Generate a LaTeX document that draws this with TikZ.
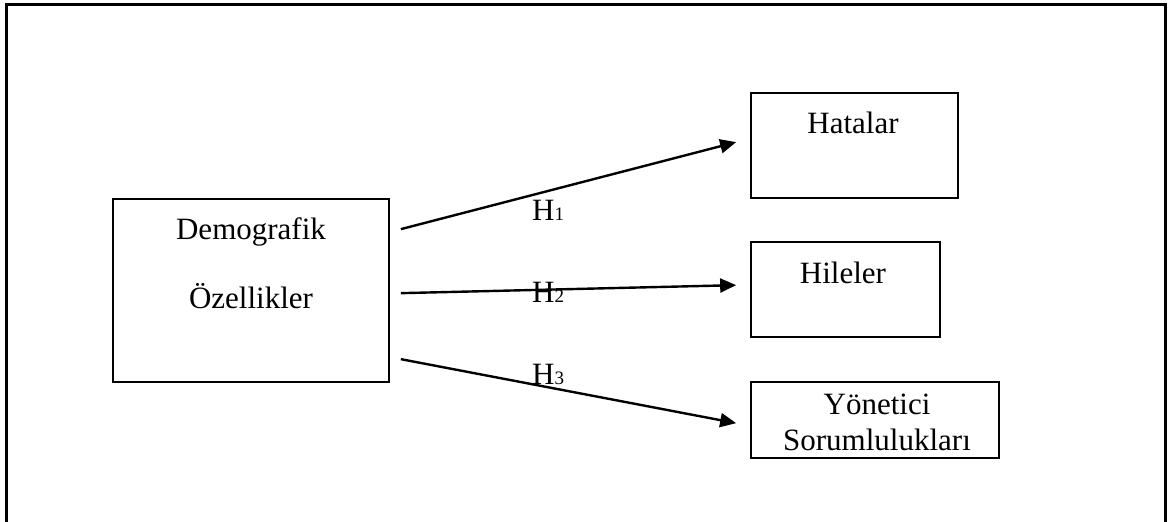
\documentclass[tikz,border=0pt]{standalone}
\usepackage{fontspec}
\setmainfont{Liberation Serif}
\usetikzlibrary{arrows.meta}
\begin{document}
\begin{tikzpicture}[x=1pt,y=-1pt,
  box/.style={draw,line width=1.7pt,minimum width=#1,inner sep=0pt},
  txt/.style={anchor=base,inner sep=0pt,font=\fontsize{31}{36}\selectfont},
  hlab/.style={anchor=base west,inner sep=0pt,font=\fontsize{31}{36}\selectfont},
  arr/.style={line width=2.4pt,-{Triangle[length=16pt,width=14pt]}}]
\useasboundingbox (0,0) rectangle (1168,522);
\draw[line width=3pt] (6,530) -- (6,4) -- (1165,4) -- (1165,530);
% boxes
\node[box=276pt,minimum height=183pt] (demo) at (251,290.5) {};
\node[box=207pt,minimum height=105pt] (hat) at (854.5,145.5) {};
\node[box=189pt,minimum height=95pt] (hil) at (845.5,289.5) {};
\node[box=248pt,minimum height=76pt] (yon) at (875,420) {};
% texts
\node[txt] (t1) at (251,239) {Demografik};
\node[txt] (t2) at (251,308) {Özellikler};
\node[txt] (t3) at (853,133) {Hatalar};
\node[txt] (t4) at (843,283) {Hileler};
\node[txt] (t5) at (877,414) {Yönetici};
\node[txt] (t6) at (877,450) {Sorumlulukları};
% arrows
\coordinate (s1) at ([xshift=11pt,yshift=-31pt]demo.north east);
\coordinate (s2) at ([xshift=11pt,yshift=-95pt]demo.north east);
\coordinate (s3) at ([xshift=11pt,yshift=-161pt]demo.north east);
\coordinate (e1) at ([xshift=-14pt,yshift=-50pt]hat.north west);
\coordinate (e2) at ([xshift=-14pt,yshift=-44pt]hil.north west);
\coordinate (e3) at ([xshift=-14pt,yshift=-42pt]yon.north west);
\draw[arr] (s1) -- (e1);
\draw[arr] (s2) -- (e2);
\draw[arr] (s3) -- (e3);
% labels
\node[hlab] (h1) at (532,220) {H\raisebox{0pt}{\fontsize{19}{19}\selectfont 1}};
\node[hlab] (h2) at (532,302) {H\raisebox{0pt}{\fontsize{19}{19}\selectfont 2}};
\node[hlab] (h3) at (532,384) {H\raisebox{0pt}{\fontsize{19}{19}\selectfont 3}};
\end{tikzpicture}
\end{document}
